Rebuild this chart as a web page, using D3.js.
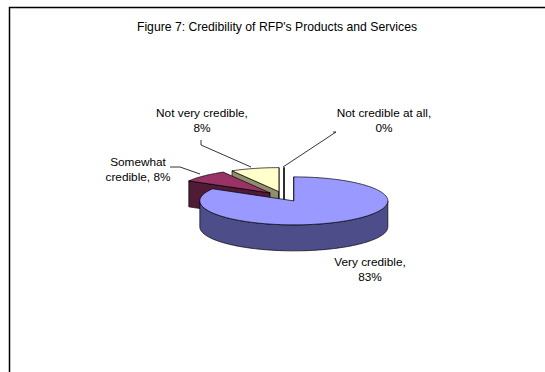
<!DOCTYPE html>
<html><head><meta charset="utf-8">
<script src="https://cdn.jsdelivr.net/npm/d3@7"></script>
<style>html,body{margin:0;padding:0;background:#fff;}svg{display:block;}</style>
</head><body>
<svg id="chart" width="545" height="372"></svg>
<script>
// ---- data ----
const title = "Figure 7: Credibility of RFP's Products and Services";
const categories = ["Very credible", "Somewhat credible", "Not very credible", "Not credible at all"];
const values = [83.3, 8.3, 8.3, 0];
const valueLabels = ["83%", "8%", "8%", "0%"];
const labelLines = [["Very credible,", "83%"], ["Somewhat", "credible, 8%"], ["Not very credible,", "8%"], ["Not credible at all,", "0%"]];
const topColors = ["#9999FF", "#993366", "#FFFFCC", "#CCFFFF"];
const sideColors = ["#4D4D8A", "#4F1B36", "#8F8F6E", "#6E8A8A"];

// ---- layout ----
const W = 545, H = 372;
const cx = 284, cy = 196.5, rx = 94, ry = 24, depth = 26, explode = 0.21;
const fontSize = 11.8;
const lineGap = 14.5;
// label anchors (text centre, first baseline) and leader polylines
const labelLayout = [
  {x: 370, y: 266, leader: null},
  {x: 138, y: 166, leader: [[170, 167], [180, 167], [200, 174]]},
  {x: 202, y: 117, leader: [[201, 140], [201, 145], [251, 167]]},
  {x: 384, y: 117, leader: [[333, 132], [336, 132], [283, 167]]}
];

const svg = d3.select("#chart");
svg.append("rect").attr("width", W).attr("height", H).attr("fill", "#fff");
svg.append("rect").attr("x", 9.5).attr("y", 7.5).attr("width", 600).attr("height", 400)
  .attr("fill", "none").attr("stroke", "#000").attr("stroke-width", 1.5);

svg.append("text").attr("x", 277).attr("y", 31).attr("text-anchor", "middle")
  .attr("font-family", "Liberation Sans, Arial, sans-serif").attr("font-size", 12.2)
  .text(title);

const pie = d3.pie().sort(null).value(d => d)(values);

const slices = pie.map((p, i) => {
  const mid = (p.startAngle + p.endAngle) / 2;
  const ox = cx + explode * rx * Math.sin(mid);
  const oy = cy - explode * ry * Math.cos(mid);
  return {i, a0: p.startAngle, a1: p.endAngle, mid, ox, oy};
});

const line = d3.line();
function rim(s, a, dz = 0) { return [s.ox + rx * Math.sin(a), s.oy - ry * Math.cos(a) + dz]; }
function arcPts(s, a0, a1, dz = 0) {
  const n = Math.max(2, Math.ceil(Math.abs(a1 - a0) / 0.02));
  return d3.range(n + 1).map(k => rim(s, a0 + (a1 - a0) * k / n, dz));
}
function draw(pts, fill) {
  g.append("path").attr("d", line(pts) + "Z").attr("fill", fill)
    .attr("stroke", "#000").attr("stroke-width", 0.7).attr("stroke-linejoin", "round");
}

const g = svg.append("g");
// painter's order: back-most slices first
const order = slices.slice().sort((a, b) => Math.cos(b.mid) - Math.cos(a.mid));
order.forEach(s => {
  const side = sideColors[s.i], top = topColors[s.i];
  const face = (a) => [[s.ox, s.oy], rim(s, a), rim(s, a, depth), [s.ox, s.oy + depth]];
  if (Math.sin(s.a0) <= 1e-9) draw(face(s.a0), side);
  if (Math.sin(s.a1) >= -1e-9) draw(face(s.a1), side);
  // outer wall (front half only)
  const w0 = Math.max(s.a0, Math.PI / 2), w1 = Math.min(s.a1, 3 * Math.PI / 2);
  if (w1 > w0) draw(arcPts(s, w0, w1).concat(arcPts(s, w1, w0, depth)), side);
  // top face
  if (s.a1 > s.a0) draw([[s.ox, s.oy]].concat(arcPts(s, s.a0, s.a1)), top);
});

// labels
labelLayout.forEach((L, i) => {
  if (L.leader) {
    svg.append("path").attr("d", line(L.leader)).attr("fill", "none")
      .attr("stroke", "#000").attr("stroke-width", 0.8);
  }
  const t = svg.append("text").attr("text-anchor", "middle")
    .attr("font-family", "Liberation Sans, Arial, sans-serif").attr("font-size", fontSize);
  labelLines[i].forEach((ln, k) => {
    t.append("tspan").attr("x", L.x).attr("y", L.y + k * lineGap).text(ln);
  });
});
</script>
</body></html>
